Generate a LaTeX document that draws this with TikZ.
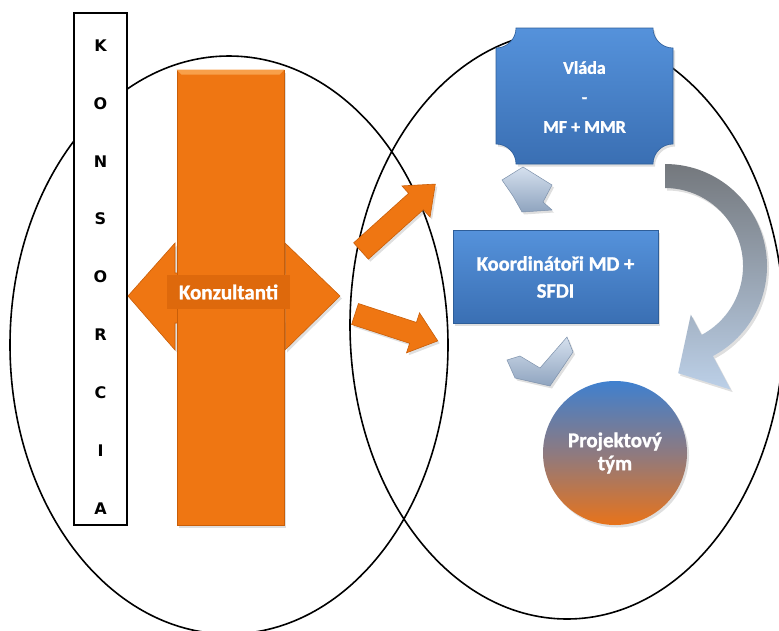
\documentclass[tikz,border=0pt]{standalone}
\usepackage{fontspec}
\setmainfont{Carlito}[BoldFont={Carlito Bold},BoldFeatures={FakeBold=1.2}]
\newfontfamily\dejavub{DejaVu Sans}[UprightFont={DejaVu Sans Bold}]
\usetikzlibrary{shadows,calc}
\definecolor{orng}{HTML}{EF7612}
\definecolor{orngdark}{HTML}{C95E08}
\definecolor{orngband}{HTML}{DE690C}
\definecolor{ornglight}{HTML}{F8A04A}
\definecolor{bluetop}{HTML}{5592DB}
\definecolor{bluebot}{HTML}{3A6FB3}
\definecolor{blueline}{HTML}{2E5E99}
\definecolor{chevtop}{HTML}{D5E0EE}
\definecolor{chevbot}{HTML}{8FA4BF}
\definecolor{chevline}{HTML}{7D91AB}
\definecolor{curvetop}{HTML}{74787D}
\definecolor{curvebot}{HTML}{BCD0E8}
\definecolor{circtop}{HTML}{3F80CF}
\definecolor{circmid}{HTML}{8E7A80}
\definecolor{circbot}{HTML}{E8731A}
\tikzset{
  softshadow/.style={drop shadow={opacity=0.25,shadow xshift=2pt,shadow yshift=-2.5pt}},
  orangeshape/.style={fill=orng,draw=orngdark,line width=0.6pt,softshadow},
  bluebox/.style={top color=bluetop,bottom color=bluebot,draw=blueline,line width=0.6pt,softshadow},
  chevshape/.style={top color=chevtop,bottom color=chevbot,draw=chevline,line width=0.5pt,softshadow},
  whitetext/.style={text=white,align=center},
  ring/.style={draw=black,line width=1.6pt}
}
\begin{document}
\begin{tikzpicture}[x=1pt,y=-1pt]
\useasboundingbox (0,0) rectangle (779,630);
% ellipses
\draw[ring] (229,345) ellipse [x radius=219, y radius=289];
\draw[ring] (567,325) ellipse [x radius=217, y radius=294];
% KONSORCIA column
\node[draw=black,line width=1.4pt,fill=white,minimum width=53pt,minimum height=512pt,inner sep=0pt] (konsorcia) at (100.5,269) {};
\node[font=\dejavub\fontsize{16}{57.9}\selectfont,align=center,inner sep=0pt] (konsorciatext) at (100.5,277) {K\\O\\N\\S\\O\\R\\C\\I\\A};
% horizontal double arrow
\path[orangeshape] (128,296) -- (175,243) -- (175,273) -- (285,273) -- (285,243) -- (340,296)
  -- (285,350) -- (285,323) -- (175,323) -- (175,350) -- cycle;
% vertical bar
\node[orangeshape,minimum width=107pt,minimum height=455pt,inner sep=0pt] (bar) at (230.5,297.5) {};
\fill[ornglight] (bar.north west) -- (bar.north east) -- ([xshift=-5pt,yshift=-5pt]bar.north east) -- ([xshift=5pt,yshift=-5pt]bar.north west) -- cycle;
% label band
\node[fill=orngband,minimum width=123pt,minimum height=34pt,inner sep=0pt,whitetext,
  font=\bfseries\fontsize{21}{23}\selectfont] (konz) at (228.5,292) {Konzultanti};
% small arrows
\begin{scope}[shift={(361,251)},rotate=42]
  \path[orangeshape] (0,-11) -- (74,-11) -- (74,-21) -- (100,0) -- (74,21) -- (74,11) -- (0,11) -- cycle;
\end{scope}
\begin{scope}[shift={(355,314)},rotate=-18]
  \path[orangeshape] (0,-11) -- (61,-11) -- (61,-21) -- (87,0) -- (61,21) -- (61,11) -- (0,11) -- cycle;
\end{scope}
% curved arrow
\coordinate (cc) at (665,266);
\path[top color=curvetop,bottom color=curvebot,softshadow]
  (665,164) arc[start angle=-90,end angle=62,radius=102]
  -- ($(cc)+(62:140)$) -- ($(cc)+(83:108)$) -- ($(cc)+(62:55)$)
  -- ($(cc)+(62:78)$) arc[start angle=62,end angle=-90,radius=78] -- cycle;
% chevrons
\path[chevshape] (502,180) -- (523,167) -- (552,185) -- (543,202) -- (552,210) -- (522,212) -- (513,196) -- cycle;
\path[chevshape] (507,360) -- (520,356) -- (540,368) -- (567,337) -- (573,352) -- (550,386) -- (515,378) -- cycle;
% Vlada plaque
\path[bluebox] (516,28) -- (653,28) arc[start angle=180,end angle=90,radius=20]
  -- (673,144) arc[start angle=270,end angle=180,radius=20]
  -- (516,164) arc[start angle=0,end angle=-90,radius=20]
  -- (496,48) arc[start angle=90,end angle=0,radius=20] -- cycle;
\node[whitetext,font=\bfseries\fontsize{18}{29.5}\selectfont] (vlada) at (584.5,97) {Vláda\\-\\MF + MMR};
% Koordinatori
\node[bluebox,minimum width=205pt,minimum height=93pt,inner sep=0pt,whitetext,
  font=\bfseries\fontsize{20.5}{27}\selectfont] (koord) at (555.5,277) {Koordinátoři MD +\\SFDI};
% Projektovy tym
\node[circle,minimum size=144pt,inner sep=0pt,top color=circtop,bottom color=circbot,middle color=circmid,
  softshadow,whitetext,font=\bfseries\fontsize{21}{23}\selectfont] (tym) at (615,453) {Projektový\\tým};
\end{tikzpicture}
\end{document}
